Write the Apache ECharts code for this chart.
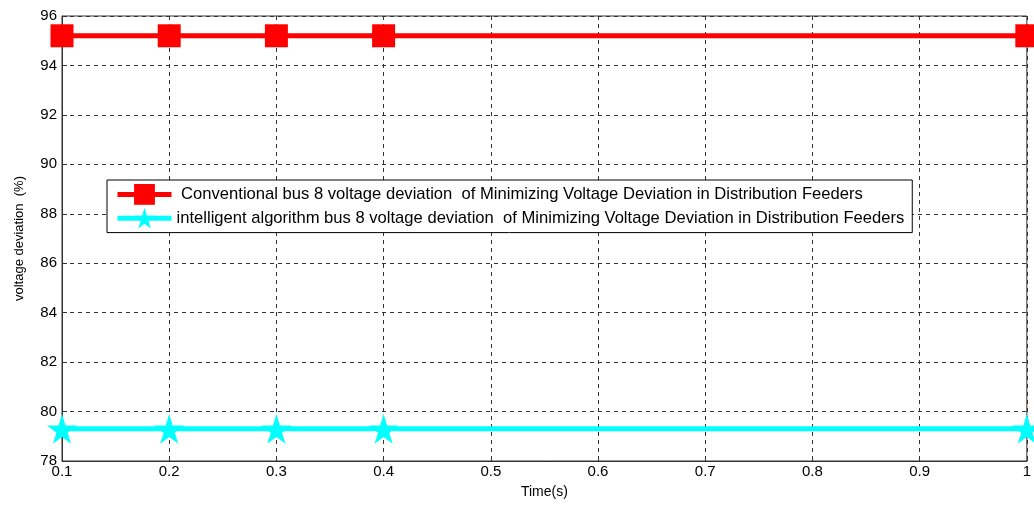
<!DOCTYPE html>
<html><head><meta charset="utf-8">
<script src="https://cdn.jsdelivr.net/npm/echarts@6/dist/echarts.min.js"></script>
<style>html,body{margin:0;padding:0;background:#fff}#c{width:1034px;height:508px}</style>
</head><body><div id="c"></div>
<script>
const times = [0.1, 0.2, 0.3, 0.4, 1.0];
const conventional = [95.2, 95.2, 95.2, 95.2, 95.2];
const intelligent = [79.3, 79.3, 79.3, 79.3, 79.3];
const xTicks = [0.1, 0.2, 0.3, 0.4, 0.5, 0.6, 0.7, 0.8, 0.9, 1];
const seriesNames = [
  ' Conventional bus 8 voltage deviation  of Minimizing Voltage Deviation in Distribution Feeders',
  'intelligent algorithm bus 8 voltage deviation  of Minimizing Voltage Deviation in Distribution Feeders'
];
const star = 'path://M50,0 L61,35 L98,35 L68,57 L79,91 L50,70 L21,91 L32,57 L2,35 L39,35 Z';
const chart = echarts.init(document.getElementById('c'));
const font = 'Arial, "Liberation Sans", sans-serif';
chart.setOption({
  animation: false,
  grid: {left: 62, right: 5, top: 16, bottom: 47, show: true, borderColor: '#333', borderWidth: 1, containLabel: false},
  xAxis: {
    type: 'value', min: 0.1, max: 1, interval: 0.1,
    name: 'Time(s)', nameLocation: 'middle', nameGap: 24,
    nameTextStyle: {color: '#000', fontSize: 14, fontFamily: font},
    axisLine: {show: true, lineStyle: {color: '#333'}},
    axisTick: {show: true, inside: true, length: 5, lineStyle: {color: '#333'}},
    axisLabel: {color: '#000', fontSize: 15, fontFamily: font, margin: 3,
      formatter: v => { const r = Math.round(v*10)/10; return xTicks.includes(r) ? String(r) : ''; }},
    splitLine: {show: true, lineStyle: {color: '#333', type: [4, 4], width: 1}}
  },
  yAxis: {
    type: 'value', min: 78, max: 96, interval: 2,
    name: 'voltage deviation  (%)', nameLocation: 'middle', nameGap: 36, nameRotate: 90,
    nameTextStyle: {color: '#000', fontSize: 13, fontFamily: font},
    axisLine: {show: true, lineStyle: {color: '#333'}},
    axisTick: {show: true, inside: true, length: 5, lineStyle: {color: '#333'}},
    axisLabel: {color: '#000', fontSize: 15, fontFamily: font, margin: 5},
    splitLine: {show: true, lineStyle: {color: '#333', type: [4, 4], width: 1}}
  },
  legend: {
    orient: 'vertical', left: 107, top: 180, itemGap: 3,
    itemWidth: 54, itemHeight: 26,
    backgroundColor: '#fff', borderColor: '#000', borderWidth: 1,
    padding: [4, 8, 4, 8],
    textStyle: {color: '#000', fontSize: 16.6, fontFamily: font, padding: [0, 0, 0, 0]},
    lineStyle: {width: 5},
    data: seriesNames
  },
  series: [
    {name: seriesNames[0], type: 'line', data: times.map((t, i) => [t, conventional[i]]),
      symbol: 'rect', symbolSize: 23, color: '#ff0000',
      lineStyle: {color: '#ff0000', width: 5}, itemStyle: {color: '#ff0000'}, z: 3},
    {name: seriesNames[1], type: 'line', data: times.map((t, i) => [t, intelligent[i]]),
      symbol: star, symbolSize: 30, color: '#00ffff',
      lineStyle: {color: '#00ffff', width: 5}, itemStyle: {color: '#00ffff'}, z: 3}
  ]
});
</script></body></html>
